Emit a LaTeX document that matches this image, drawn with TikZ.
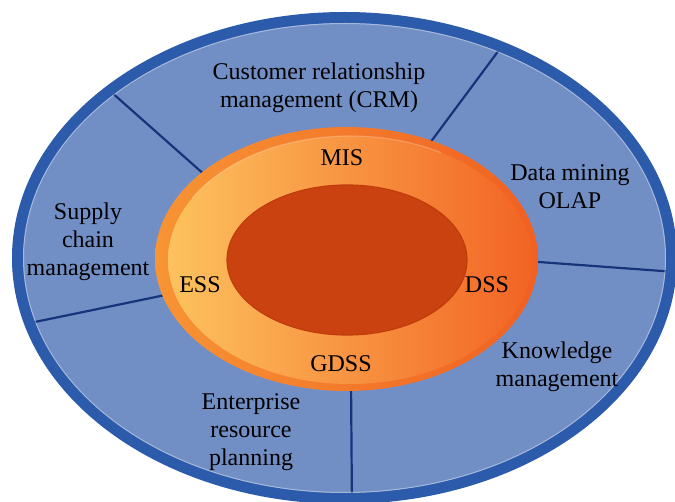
\documentclass[tikz,border=0pt]{standalone}
\usepackage{fontspec}
\setmainfont{Liberation Serif}
\begin{document}
\begin{tikzpicture}[x=1pt,y=-1pt,
  label/.style={inner sep=0pt, align=center, text=black,
    font=\fontsize{24}{28}\selectfont},
  divider/.style={draw=dividerblue, line width=2.2pt}]
\definecolor{rimblue}{RGB}{44,91,172}
\definecolor{fieldblue}{RGB}{114,143,197}
\definecolor{dividerblue}{RGB}{22,52,122}
\definecolor{ringedgeL}{RGB}{247,148,52}
\definecolor{ringedgeR}{RGB}{240,96,34}
\definecolor{ringL}{RGB}{253,194,94}
\definecolor{ringR}{RGB}{242,100,36}
\definecolor{coredark}{RGB}{202,66,15}
\definecolor{coreedge}{RGB}{192,60,13}

\useasboundingbox (0,0) rectangle (675,502);
\clip (0,0) rectangle (675,502);

% outer field
\fill[fieldblue] (344.5,258) ellipse [x radius=332pt, y radius=245pt];

% sector dividers (ends tucked under rim and ring)
\coordinate (d1a) at (110,91);   \coordinate (d1b) at (215,184);
\coordinate (d2a) at (502,46);   \coordinate (d2b) at (424,151);
\coordinate (d3a) at (676,272);  \coordinate (d3b) at (525,261);
\coordinate (d4a) at (30,323);   \coordinate (d4b) at (175,293);
\coordinate (d5a) at (352,510);  \coordinate (d5b) at (351,380);
\foreach \i in {1,...,5} \draw[divider] (d\i a) -- (d\i b);

% rim of the outer ellipse
\draw[rimblue, line width=11pt] (344.5,258) ellipse [x radius=327pt, y radius=240.5pt];
\draw[white, opacity=0.4, line width=1pt] (344.5,258) ellipse [x radius=321pt, y radius=234.5pt];

% orange ring
\shade[left color=ringedgeL, right color=ringedgeR]
  (346.5,259) ellipse [x radius=191.5pt, y radius=132pt];
\shade[left color=ringL, right color=ringR]
  (350,260) ellipse [x radius=182pt, y radius=124pt];
\draw[white, opacity=0.22, line width=1.2pt]
  (350,260) ++(150:182pt and 124pt) arc [start angle=150, end angle=60, x radius=182pt, y radius=124pt];

% dark core
\fill[coredark, draw=coreedge, line width=1.2pt] (347,260) ellipse [x radius=120pt, y radius=75pt];

% labels
\node[label] (crm) at (319,88) {Customer relationship\\management (CRM)};
\node[label] (mis) at (342,158) {MIS};
\node[label] (olap) at (570,187) {Data mining\\OLAP};
\node[label] (scm) at (88,242) {Supply\\chain\\management};
\node[label] (ess) at (200,285) {ESS};
\node[label] (dss) at (487,285) {DSS};
\node[label] (gdss) at (341,364) {GDSS};
\node[label] (km) at (557,367) {Knowledge\\management};
\node[label] (erp) at (251,432) {Enterprise\\resource\\planning};
\end{tikzpicture}
\end{document}
